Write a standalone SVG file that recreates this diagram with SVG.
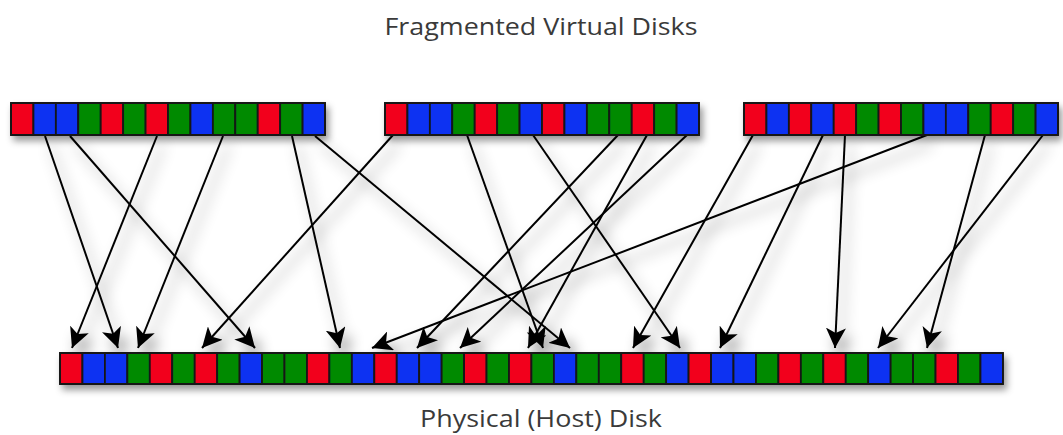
<svg xmlns="http://www.w3.org/2000/svg" width="1063" height="435" viewBox="0 0 1063 435">
<style>
.r{fill:#f2001e}
.b{fill:#0a33f2}
.g{fill:#008a06}
.cell rect{stroke:#151515;stroke-width:1.8}
.frame{fill:none;stroke:#000;stroke-width:2.2}
.lbl{font-family:"Open Sans","DejaVu Sans",sans-serif;fill:#3a3a3a;text-anchor:middle}
.conn line{stroke:#000;stroke-width:2;marker-end:url(#ah)}
</style>
<defs>
<marker id="ah" markerUnits="userSpaceOnUse" markerWidth="22" markerHeight="20" refX="20" refY="10" orient="auto">
<path d="M0,0 L20,10 L0,20 L5,10 Z" fill="#000"/>
</marker>
<filter id="sh" x="-20%" y="-20%" width="140%" height="160%">
<feDropShadow dx="6" dy="9" stdDeviation="7" flood-color="#000" flood-opacity="0.45"/>
</filter>
<filter id="sh2" x="-5%" y="-50%" width="110%" height="250%">
<feDropShadow dx="3" dy="5" stdDeviation="3.5" flood-color="#000" flood-opacity="0.4"/>
</filter>
</defs>
<rect width="1063" height="435" fill="#fff"/>
<text class="lbl" x="541" y="35" font-size="24" textLength="313" lengthAdjust="spacingAndGlyphs">Fragmented Virtual Disks</text>
<text class="lbl" x="541" y="427" font-size="23" textLength="242" lengthAdjust="spacingAndGlyphs">Physical (Host) Disk</text>

<g id="connectors" class="conn" filter="url(#sh)">
<line x1="45" y1="136" x2="118" y2="348"/>
<line x1="70" y1="136" x2="255" y2="348"/>
<line x1="157" y1="136" x2="72" y2="348"/>
<line x1="223" y1="136" x2="138" y2="348"/>
<line x1="292" y1="136" x2="340" y2="348"/>
<line x1="315" y1="136" x2="570" y2="348"/>
<line x1="393" y1="135" x2="202" y2="348"/>
<line x1="467" y1="135" x2="543" y2="348"/>
<line x1="533" y1="135" x2="680" y2="348"/>
<line x1="618" y1="135" x2="417" y2="348"/>
<line x1="647" y1="135" x2="528" y2="348"/>
<line x1="687" y1="135" x2="460" y2="348"/>
<line x1="753" y1="135" x2="633" y2="348"/>
<line x1="823" y1="135" x2="720" y2="348"/>
<line x1="845" y1="135" x2="835" y2="348"/>
<line x1="927" y1="135" x2="372" y2="348"/>
<line x1="985" y1="135" x2="927" y2="348"/>
<line x1="1043" y1="135" x2="878" y2="348"/>
</g>

<g id="disk1" class="cell" transform="translate(11,103)" filter="url(#sh2)">
<rect class="r" x="0" y="0" width="22.43" height="32"/>
<rect class="b" x="22.43" y="0" width="22.43" height="32"/>
<rect class="b" x="44.86" y="0" width="22.43" height="32"/>
<rect class="g" x="67.29" y="0" width="22.43" height="32"/>
<rect class="r" x="89.72" y="0" width="22.43" height="32"/>
<rect class="g" x="112.15" y="0" width="22.43" height="32"/>
<rect class="r" x="134.58" y="0" width="22.43" height="32"/>
<rect class="g" x="157.01" y="0" width="22.43" height="32"/>
<rect class="b" x="179.44" y="0" width="22.43" height="32"/>
<rect class="g" x="201.87" y="0" width="22.43" height="32"/>
<rect class="g" x="224.3" y="0" width="22.43" height="32"/>
<rect class="r" x="246.73" y="0" width="22.43" height="32"/>
<rect class="g" x="269.16" y="0" width="22.43" height="32"/>
<rect class="b" x="291.59" y="0" width="22.43" height="32"/>
<rect class="frame" x="0" y="0" width="314" height="32"/>
</g>

<g id="disk2" class="cell" transform="translate(385,103)" filter="url(#sh2)">
<rect class="r" x="0" y="0" width="22.43" height="32"/>
<rect class="b" x="22.43" y="0" width="22.43" height="32"/>
<rect class="b" x="44.86" y="0" width="22.43" height="32"/>
<rect class="g" x="67.29" y="0" width="22.43" height="32"/>
<rect class="r" x="89.72" y="0" width="22.43" height="32"/>
<rect class="g" x="112.15" y="0" width="22.43" height="32"/>
<rect class="b" x="134.58" y="0" width="22.43" height="32"/>
<rect class="r" x="157.01" y="0" width="22.43" height="32"/>
<rect class="b" x="179.44" y="0" width="22.43" height="32"/>
<rect class="g" x="201.87" y="0" width="22.43" height="32"/>
<rect class="g" x="224.3" y="0" width="22.43" height="32"/>
<rect class="r" x="246.73" y="0" width="22.43" height="32"/>
<rect class="g" x="269.16" y="0" width="22.43" height="32"/>
<rect class="b" x="291.59" y="0" width="22.43" height="32"/>
<rect class="frame" x="0" y="0" width="314" height="32"/>
</g>

<g id="disk3" class="cell" transform="translate(744,103)" filter="url(#sh2)">
<rect class="r" x="0" y="0" width="22.43" height="32"/>
<rect class="b" x="22.43" y="0" width="22.43" height="32"/>
<rect class="r" x="44.86" y="0" width="22.43" height="32"/>
<rect class="b" x="67.29" y="0" width="22.43" height="32"/>
<rect class="r" x="89.72" y="0" width="22.43" height="32"/>
<rect class="g" x="112.15" y="0" width="22.43" height="32"/>
<rect class="r" x="134.58" y="0" width="22.43" height="32"/>
<rect class="g" x="157.01" y="0" width="22.43" height="32"/>
<rect class="b" x="179.44" y="0" width="22.43" height="32"/>
<rect class="b" x="201.87" y="0" width="22.43" height="32"/>
<rect class="g" x="224.3" y="0" width="22.43" height="32"/>
<rect class="r" x="246.73" y="0" width="22.43" height="32"/>
<rect class="g" x="269.16" y="0" width="22.43" height="32"/>
<rect class="b" x="291.59" y="0" width="22.43" height="32"/>
<rect class="frame" x="0" y="0" width="314" height="32"/>
</g>

<g id="host" class="cell" transform="translate(60,353)" filter="url(#sh2)">
<rect class="r" x="0" y="0" width="22.45" height="31"/>
<rect class="b" x="22.45" y="0" width="22.45" height="31"/>
<rect class="b" x="44.9" y="0" width="22.45" height="31"/>
<rect class="g" x="67.35" y="0" width="22.45" height="31"/>
<rect class="r" x="89.8" y="0" width="22.45" height="31"/>
<rect class="g" x="112.25" y="0" width="22.45" height="31"/>
<rect class="r" x="134.7" y="0" width="22.45" height="31"/>
<rect class="g" x="157.15" y="0" width="22.45" height="31"/>
<rect class="b" x="179.6" y="0" width="22.45" height="31"/>
<rect class="g" x="202.05" y="0" width="22.45" height="31"/>
<rect class="g" x="224.5" y="0" width="22.45" height="31"/>
<rect class="r" x="246.95" y="0" width="22.45" height="31"/>
<rect class="g" x="269.4" y="0" width="22.45" height="31"/>
<rect class="b" x="291.85" y="0" width="22.45" height="31"/>
<rect class="r" x="314.3" y="0" width="22.45" height="31"/>
<rect class="b" x="336.75" y="0" width="22.45" height="31"/>
<rect class="b" x="359.2" y="0" width="22.45" height="31"/>
<rect class="g" x="381.65" y="0" width="22.45" height="31"/>
<rect class="r" x="404.1" y="0" width="22.45" height="31"/>
<rect class="g" x="426.55" y="0" width="22.45" height="31"/>
<rect class="r" x="449" y="0" width="22.45" height="31"/>
<rect class="g" x="471.45" y="0" width="22.45" height="31"/>
<rect class="b" x="493.9" y="0" width="22.45" height="31"/>
<rect class="g" x="516.35" y="0" width="22.45" height="31"/>
<rect class="g" x="538.8" y="0" width="22.45" height="31"/>
<rect class="r" x="561.25" y="0" width="22.45" height="31"/>
<rect class="g" x="583.7" y="0" width="22.45" height="31"/>
<rect class="b" x="606.15" y="0" width="22.45" height="31"/>
<rect class="r" x="628.6" y="0" width="22.45" height="31"/>
<rect class="b" x="651.05" y="0" width="22.45" height="31"/>
<rect class="b" x="673.5" y="0" width="22.45" height="31"/>
<rect class="g" x="695.95" y="0" width="22.45" height="31"/>
<rect class="r" x="718.4" y="0" width="22.45" height="31"/>
<rect class="g" x="740.85" y="0" width="22.45" height="31"/>
<rect class="r" x="763.3" y="0" width="22.45" height="31"/>
<rect class="g" x="785.75" y="0" width="22.45" height="31"/>
<rect class="b" x="808.2" y="0" width="22.45" height="31"/>
<rect class="g" x="830.65" y="0" width="22.45" height="31"/>
<rect class="g" x="853.1" y="0" width="22.45" height="31"/>
<rect class="r" x="875.55" y="0" width="22.45" height="31"/>
<rect class="g" x="898" y="0" width="22.45" height="31"/>
<rect class="b" x="920.45" y="0" width="22.45" height="31"/>
<rect class="frame" x="0" y="0" width="942.9" height="31"/>
</g>
</svg>
